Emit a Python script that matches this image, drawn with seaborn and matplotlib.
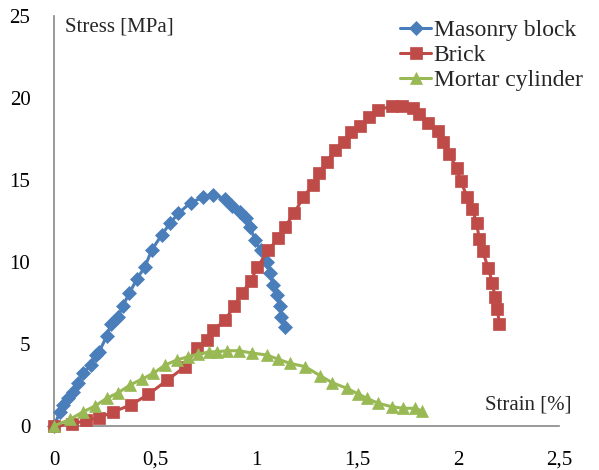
import matplotlib
matplotlib.use("Agg")
import matplotlib.pyplot as plt
import seaborn as sns
import pandas as pd

# Data
block_strain = [0, 0.03, 0.046, 0.071, 0.096, 0.12, 0.145, 0.182, 0.208, 0.224, 0.261, 0.282, 0.318, 0.34,
                0.373, 0.409, 0.45, 0.484, 0.533, 0.574, 0.616, 0.677, 0.736, 0.789, 0.847, 0.881, 0.919,
                0.95, 0.97, 0.995, 1.023, 1.053, 1.069, 1.086, 1.105, 1.119, 1.122, 1.144]
block_stress = [0, 0.87, 1.28, 1.69, 2.09, 2.6, 3.21, 3.72, 4.33, 4.53, 5.49, 6.22, 6.66, 7.32, 8.09, 8.94,
                9.71, 10.73, 11.65, 12.36, 12.97, 13.62, 13.94, 14.1, 13.84, 13.41, 13.07, 12.66, 12.15,
                11.34, 10.73, 10.02, 9.35, 8.6, 7.99, 7.32, 6.66, 6.05]

brick_strain = [0, 0.09, 0.16, 0.224, 0.294, 0.38, 0.467, 0.561, 0.649, 0.706, 0.756, 0.789, 0.847, 0.893,
                0.929, 0.974, 1.007, 1.061, 1.11, 1.144, 1.19, 1.234, 1.28, 1.313, 1.35, 1.39, 1.436, 1.47,
                1.515, 1.561, 1.606, 1.671, 1.721, 1.776, 1.809, 1.853, 1.902, 1.924, 1.957, 1.993, 2.013,
                2.046, 2.071, 2.092, 2.105, 2.122, 2.15, 2.17, 2.183, 2.195, 2.205]
brick_stress = [0, 0.1, 0.37, 0.5, 0.87, 1.28, 1.93, 2.8, 3.62, 4.73, 5.24, 5.85, 6.46, 7.32, 8.09, 8.86,
                9.68, 10.73, 11.44, 12.15, 13.0, 13.94, 14.7, 15.45, 16.1, 16.83, 17.34, 17.9, 18.27, 18.87,
                19.27, 19.51, 19.51, 19.37, 19.02, 18.5, 17.96, 17.34, 16.59, 15.71, 14.96, 13.94, 13.21,
                12.4, 11.4, 10.65, 9.63, 8.74, 7.88, 7.11, 6.2]

mortar_strain = [0, 0.079, 0.145, 0.203, 0.261, 0.318, 0.376, 0.434, 0.492, 0.55, 0.607, 0.665, 0.714,
                 0.765, 0.805, 0.858, 0.917, 0.979, 1.053, 1.11, 1.168, 1.243, 1.317, 1.378, 1.449, 1.507,
                 1.548, 1.606, 1.671, 1.729, 1.787, 1.82]
mortar_stress = [0, 0.41, 0.87, 1.22, 1.69, 2.03, 2.5, 2.85, 3.21, 3.72, 4.02, 4.23, 4.39, 4.5, 4.53, 4.59,
                 4.59, 4.45, 4.33, 4.07, 3.82, 3.62, 3.07, 2.64, 2.3, 1.95, 1.69, 1.38, 1.18, 1.08, 1.08, 0.93]

series_names = ["Masonry block", "Brick", "Mortar cylinder"]
x_ticks = [0, 0.5, 1, 1.5, 2, 2.5]
x_tick_labels = ["0", "0,5", "1", "1,5", "2", "2,5"]
y_ticks = [0, 5, 10, 15, 20, 25]

sns.set_style("white")
plt.rcParams["font.family"] = ["Liberation Serif", "DejaVu Serif"]

fig = plt.figure(figsize=(5.99, 4.70), dpi=100)
ax = fig.add_axes([54 / 599, 44 / 470, 505 / 599, 410 / 470])

colors = ["#4A7EBB", "#BE4B48", "#98B954"]
markers = ["D", "s", "^"]
msizes = [7, 8.5, 8.5]
data = [(block_strain, block_stress), (brick_strain, brick_stress), (mortar_strain, mortar_stress)]

for (xs, ys), name, c, m, ms in zip(data, series_names, colors, markers, msizes):
    df = pd.DataFrame({"strain": xs, "stress": ys})
    sns.lineplot(data=df, x="strain", y="stress", sort=False, estimator=None, ax=ax,
                 color=c, marker=m, markersize=ms, markeredgecolor=c, markeredgewidth=0.5,
                 linewidth=2.2, label=name, clip_on=False, zorder=3)

ax.set_xlim(0, 2.5)
ax.set_ylim(0, 25)
ax.set_xticks(x_ticks)
ax.set_xticklabels(x_tick_labels)
ax.set_yticks(y_ticks)
ax.set_xlabel("")
ax.set_ylabel("")
for s in ["top", "right"]:
    ax.spines[s].set_visible(False)
for s in ["left", "bottom"]:
    ax.spines[s].set_color("#878787")
    ax.spines[s].set_linewidth(1.2)
ax.tick_params(axis="both", which="major", direction="out", length=6, width=1.2, color="#878787",
               labelsize=15, labelcolor="black")
ax.tick_params(axis="x", pad=12)
ax.tick_params(axis="y", pad=11)
ax.grid(False)

ax.text(0.055, 24.3, "Stress [MPa]", fontsize=15, ha="left", va="center")
ax.text(2.56, 1.3, "Strain [%]", fontsize=15, ha="right", va="center")

leg = ax.legend(loc="upper right", bbox_to_anchor=(1.065, 1.015), frameon=False, fontsize=17,
                handlelength=1.3, handletextpad=0.1, labelspacing=0.15, borderaxespad=0)

fig.savefig("out.png", dpi=100, facecolor="white")
